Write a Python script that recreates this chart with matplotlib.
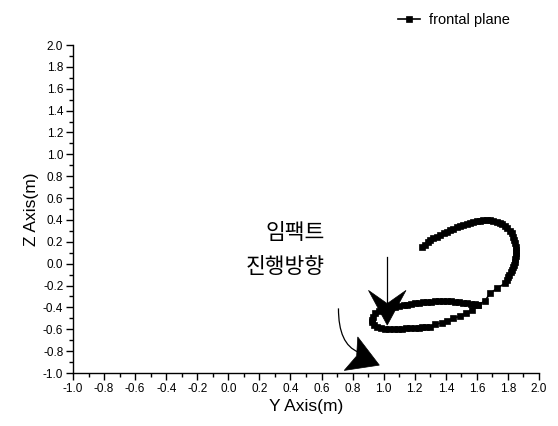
import matplotlib
matplotlib.use("Agg")
import matplotlib.pyplot as plt
from matplotlib.path import Path
from matplotlib.patches import PathPatch, Polygon
from matplotlib.transforms import Affine2D, ScaledTranslation
from matplotlib.ticker import MultipleLocator

# Trajectory of the frontal-plane motion (Y, Z in metres)
y_axis_m = [
    1.246, 1.265, 1.283, 1.301, 1.320, 1.342, 1.364, 1.386, 1.407, 1.428,
    1.449, 1.470, 1.492, 1.513, 1.535, 1.556, 1.577, 1.599, 1.620, 1.642,
    1.663, 1.685, 1.706, 1.728, 1.746, 1.764, 1.781, 1.796, 1.811, 1.824,
    1.832, 1.840, 1.845, 1.849, 1.851, 1.852, 1.850, 1.848, 1.845, 1.838,
    1.831, 1.824, 1.817, 1.809, 1.802, 1.791, 1.781,
    1.730, 1.685, 1.653, 1.609, 1.567, 1.530, 1.492, 1.449, 1.410, 1.374,
    1.331, 1.299,
    1.275, 1.250, 1.225, 1.199, 1.171, 1.145, 1.118, 1.091, 1.064, 1.037,
    1.010, 0.983, 0.957, 0.938, 0.928, 0.925, 0.930, 0.946, 0.970, 0.995,
    1.021, 1.048, 1.075, 1.101, 1.128, 1.153, 1.178, 1.203, 1.228, 1.253,
    1.278, 1.304, 1.330, 1.355, 1.381, 1.407, 1.433, 1.459, 1.484, 1.510,
    1.535, 1.560, 1.585, 1.608,
]
z_axis_m = [
    0.155, 0.175, 0.195, 0.213, 0.231, 0.247, 0.263, 0.278, 0.292, 0.306,
    0.320, 0.334, 0.347, 0.357, 0.367, 0.376, 0.383, 0.389, 0.394, 0.398,
    0.399, 0.398, 0.392, 0.383, 0.373, 0.361, 0.347, 0.324, 0.301, 0.277,
    0.247, 0.216, 0.186, 0.155, 0.124, 0.094, 0.068, 0.043, 0.017, -0.008,
    -0.034, -0.059, -0.080, -0.100, -0.120, -0.150, -0.180,
    -0.226, -0.272, -0.339, -0.379, -0.425, -0.455, -0.479, -0.500, -0.522, -0.541,
    -0.555, -0.577,
    -0.580, -0.583, -0.586, -0.588, -0.589, -0.592, -0.595, -0.598, -0.601, -0.599,
    -0.594, -0.588, -0.577, -0.557, -0.537, -0.516, -0.485, -0.455, -0.437, -0.421,
    -0.409, -0.400, -0.392, -0.385, -0.379, -0.374, -0.369, -0.364, -0.359, -0.354,
    -0.349, -0.347, -0.345, -0.342, -0.340, -0.339, -0.342, -0.347, -0.352, -0.358,
    -0.363, -0.368, -0.373, -0.379,
]
series_label = "frontal plane"

x_ticks = [-1.0, -0.8, -0.6, -0.4, -0.2, 0.0, 0.2, 0.4, 0.6, 0.8, 1.0, 1.2, 1.4, 1.6, 1.8, 2.0]
y_ticks = [-1.0, -0.8, -0.6, -0.4, -0.2, 0.0, 0.2, 0.4, 0.6, 0.8, 1.0, 1.2, 1.4, 1.6, 1.8, 2.0]

# Annotation geometry (data coordinates)
impact_arrow_start = (1.023, 0.063)
impact_arrow_notch = (1.023, -0.360)
impact_arrow_tip = (1.023, -0.562)
travel_curve = [(0.709, -0.409), (0.708, -0.736), (0.837, -0.809)]
travel_arrow_tip = (0.972, -0.928)
label_impact = ("임팩트", 0.432, 0.280)
label_travel = ("진행방향", 0.368, -0.031)

plt.rcParams['font.family'] = ['Liberation Sans', 'DejaVu Sans']

fig = plt.figure(figsize=(5.58, 4.26), dpi=100)
ax = fig.add_axes([73 / 558, 1 - 373 / 426, 466 / 558, 328 / 426])

ax.plot(y_axis_m, z_axis_m, '-s', color='black', lw=1.2, ms=4.2,
        markeredgewidth=0.5, label=series_label, zorder=3)

ax.set_xlim(-1.0, 2.0)
ax.set_ylim(-1.0, 2.0)
ax.set_xticks(x_ticks)
ax.set_yticks(y_ticks)
ax.set_xticklabels([f"{v:.1f}" for v in x_ticks])
ax.set_yticklabels([f"{v:.1f}" for v in y_ticks])
ax.xaxis.set_minor_locator(MultipleLocator(0.1))
ax.yaxis.set_minor_locator(MultipleLocator(0.1))
ax.tick_params(which='major', direction='out', length=5, width=1.0,
               labelsize=8.5, pad=2, colors='black')
ax.tick_params(which='minor', direction='out', length=3, width=1.0)
for side in ('top', 'right'):
    ax.spines[side].set_visible(False)
for side in ('left', 'bottom'):
    ax.spines[side].set_linewidth(1.0)

ax.set_xlabel("Y Axis(m)", fontsize=12.5, labelpad=3)
ax.set_ylabel("Z Axis(m)", fontsize=12.5, labelpad=3)

leg = ax.legend(loc='center left', bbox_to_anchor=(398 / 558, 1 - 20 / 426),
                bbox_transform=fig.transFigure, frameon=False, fontsize=10.5,
                handlelength=1.5, handletextpad=0.6, markerscale=1.1,
                borderpad=0, borderaxespad=0)


def arrow_head(tip, angle_deg, length_pt, width_pt, notch_frac):
    """Filled, notched arrow head drawn in points around a data-space tip."""
    L, W = length_pt, width_pt
    verts = [(0, 0), (-L, W / 2), (-L * notch_frac, 0), (-L, -W / 2)]
    tr = (Affine2D().rotate_deg(angle_deg).scale(fig.dpi / 72.0)
          + ScaledTranslation(tip[0], tip[1], ax.transData))
    ax.add_patch(Polygon(verts, closed=True, transform=tr, facecolor='black',
                         edgecolor='black', lw=0.5, zorder=4, clip_on=False))


# Impact arrow: straight shaft pointing down onto the loop
ax.plot([impact_arrow_start[0], impact_arrow_notch[0]],
        [impact_arrow_start[1], impact_arrow_notch[1]],
        color='black', lw=0.9, zorder=4)
arrow_head(impact_arrow_tip, -90, 25, 27, 0.62)

# Travel-direction arrow: curved shaft sweeping down to the right
curve = Path(travel_curve, [Path.MOVETO, Path.CURVE3, Path.CURVE3])
ax.add_patch(PathPatch(curve, facecolor='none', edgecolor='black', lw=0.9, zorder=4))
arrow_head(travel_arrow_tip, -22, 22, 26, 0.8)

for text, tx, ty in (label_impact, label_travel):
    ax.text(tx, ty, text, ha='center', va='center', fontsize=15.5,
            family=['Noto Sans CJK KR', 'DejaVu Sans'], weight='medium',
            color='black')

fig.savefig("out.png", dpi=100)
